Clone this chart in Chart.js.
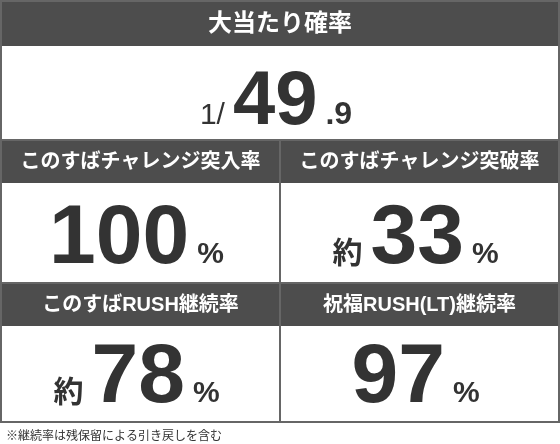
<!DOCTYPE html>
<html><head><meta charset="utf-8">
<script src="https://cdn.jsdelivr.net/npm/chart.js@4"></script>
<style>html,body{margin:0;padding:0;background:#fff}#wrap{width:560px;height:444px}</style>
</head><body><div id="wrap"><canvas id="c"></canvas></div>
<script>
// spec cells: header text, prefix, main number, fraction, unit
const headers = ["大当たり確率", "このすばチャレンジ突入率", "このすばチャレンジ突破率", "このすばRUSH継続率", "祝福RUSH(LT)継続率"];
const prefixes = ["1/", "", "約", "約", ""];
const numbers = ["49", "100", "33", "78", "97"];
const fractions = [".9", "", "", "", ""];
const units = ["", "%", "%", "%", "%"];
const footnote = "※継続率は残保留による引き戻しを含む";

const DARK = "#4d4d4d", LINE = "#666";
const FONT = '"Liberation Sans", "Noto Sans CJK JP", sans-serif';
const CJK = '"Noto Sans CJK JP", sans-serif';

// cell boxes [x, y, w, headerH, bodyH]
const boxes = [
    [1, 1, 558, 45, 94],
    [1, 140, 279, 43, 100],
    [280, 140, 279, 43, 100],
    [1, 283, 279, 43, 96],
    [280, 283, 279, 43, 96],
];

function drawValue(ctx, i, cx, baseline, big) {
    const parts = [];
    if (prefixes[i]) parts.push([prefixes[i], i === 0 ? "400 30px " + FONT : "700 30px " + CJK]);
    parts.push([numbers[i], "700 " + big + "px " + FONT]);
    if (fractions[i]) parts.push([fractions[i], "700 32px " + FONT]);
    if (units[i]) parts.push([units[i], "700 30px " + FONT]);
    let total = 0;
    parts.forEach(p => { ctx.font = p[1]; total += ctx.measureText(p[0]).width + 8; });
    let x = cx - total / 2;
    ctx.fillStyle = "#333";
    ctx.textAlign = "left";
    ctx.textBaseline = "alphabetic";
    parts.forEach(p => { ctx.font = p[1]; ctx.fillText(p[0], x, baseline); x += ctx.measureText(p[0]).width + 8; });
}

const tablePlugin = {
    id: "specTable",
    afterDraw(chart) {
        const ctx = chart.ctx;
        ctx.save();
        ctx.fillStyle = "#fff";
        ctx.fillRect(0, 0, 560, 444);
        boxes.forEach((b, i) => {
            const [x, y, w, hh, bh] = b;
            ctx.fillStyle = DARK;
            ctx.fillRect(x, y, w, hh);
            ctx.strokeStyle = LINE;
            ctx.lineWidth = 2;
            ctx.strokeRect(x, y, w, hh + bh);
            ctx.fillStyle = "#fff";
            ctx.font = "700 " + (i === 0 ? 24 : 20) + "px " + FONT;
            ctx.textAlign = "center";
            ctx.textBaseline = "middle";
            ctx.fillText(headers[i], x + w / 2, y + hh / 2 + 1);
            const big = i === 0 ? 76 : 84;
            const baseline = y + hh + (i === 0 ? 78 : bh - 20);
            drawValue(ctx, i, x + w / 2, baseline, big);
        });
        ctx.fillStyle = "#333";
        ctx.font = "400 12px " + CJK;
        ctx.textAlign = "left";
        ctx.textBaseline = "middle";
        ctx.fillText(footnote, 6, 435);
        ctx.restore();
    }
};

new Chart(document.getElementById("c"), {
    type: "bar",
    data: { labels: headers, datasets: [{ data: [] }] },
    options: {
        responsive: true, maintainAspectRatio: false, animation: false,
        plugins: { legend: { display: false }, tooltip: { enabled: false } },
        scales: { x: { display: false }, y: { display: false } }
    },
    plugins: [tablePlugin]
});
</script></body></html>
